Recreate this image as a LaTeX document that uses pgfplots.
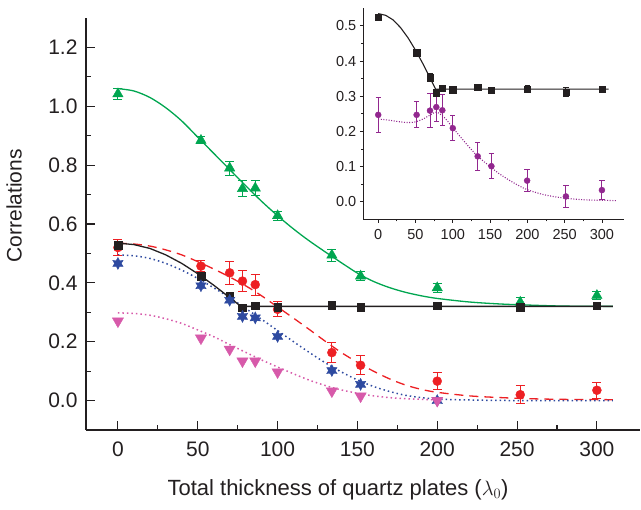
\documentclass[border=0pt]{standalone}
\usepackage{fontspec}
\setmainfont{Liberation Sans}
\usepackage{pgfplots}
\usepackage{pgfplotstable}
\pgfplotsset{compat=1.18}

\definecolor{cgreen}{RGB}{0,166,80}
\definecolor{cred}{RGB}{237,32,36}
\definecolor{cblue}{RGB}{46,74,160}
\definecolor{cmag}{RGB}{215,90,170}
\definecolor{cpur}{RGB}{146,39,143}
\definecolor{cblk}{RGB}{35,31,32}

\pgfdeclareplotmark{hexstar}{%
  \pgfpathmoveto{\pgfpointpolar{90}{\pgfplotmarksize}}%
  \pgfpathlineto{\pgfpointpolar{120}{0.55\pgfplotmarksize}}%
  \pgfpathlineto{\pgfpointpolar{150}{\pgfplotmarksize}}%
  \pgfpathlineto{\pgfpointpolar{180}{0.55\pgfplotmarksize}}%
  \pgfpathlineto{\pgfpointpolar{210}{\pgfplotmarksize}}%
  \pgfpathlineto{\pgfpointpolar{240}{0.55\pgfplotmarksize}}%
  \pgfpathlineto{\pgfpointpolar{270}{\pgfplotmarksize}}%
  \pgfpathlineto{\pgfpointpolar{300}{0.55\pgfplotmarksize}}%
  \pgfpathlineto{\pgfpointpolar{330}{\pgfplotmarksize}}%
  \pgfpathlineto{\pgfpointpolar{0}{0.55\pgfplotmarksize}}%
  \pgfpathlineto{\pgfpointpolar{30}{\pgfplotmarksize}}%
  \pgfpathlineto{\pgfpointpolar{60}{0.55\pgfplotmarksize}}%
  \pgfpathclose
  \pgfusepathqfillstroke
}

% ---------- main panel data ----------
\pgfplotstableread{
x y e
0 1.042 0.020
52 0.884 0.012
70 0.790 0.024
78 0.720 0.027
86 0.722 0.025
100 0.628 0.015
134 0.494 0.020
152 0.423 0.015
200 0.383 0.015
252 0.334 0.015
300 0.357 0.012
}\greenpts
\pgfplotstableread{
x y
0 1.060
10 1.052
20 1.030
30 0.995
40 0.950
50 0.895
60 0.840
70 0.785
80 0.730
90 0.677
100 0.628
110 0.583
120 0.542
134 0.490
150 0.433
160 0.405
170 0.384
180 0.368
190 0.356
200 0.347
220 0.335
240 0.328
260 0.324
280 0.321
310 0.320
}\greenfit
\pgfplotstableread{
x y e
0 0.527 0.010
52 0.423 0.008
70 0.356 0.010
78 0.316 0.010
86 0.323 0.008
100 0.318 0.010
134 0.325 0.008
152 0.318 0.008
200 0.322 0.008
252 0.318 0.008
300 0.322 0.008
}\blackpts
\pgfplotstableread{
x y
0 0.535
10 0.530
20 0.517
30 0.495
40 0.466
50 0.431
60 0.392
65 0.371
70 0.350
74 0.333
77 0.320
310 0.320
}\blackfit
\pgfplotstableread{
x y e
0 0.520 0.027
52 0.457 0.020
70 0.434 0.040
78 0.406 0.037
86 0.394 0.036
100 0.310 0.026
134 0.163 0.034
152 0.120 0.032
200 0.066 0.030
252 0.020 0.030
300 0.035 0.027
}\redpts
\pgfplotstableread{
x y
0 0.535
10 0.532
20 0.525
30 0.512
40 0.495
50 0.472
60 0.447
70 0.420
80 0.390
90 0.356
100 0.318
110 0.280
120 0.241
130 0.201
140 0.163
150 0.130
160 0.100
170 0.074
180 0.053
190 0.038
200 0.028
220 0.016
240 0.010
260 0.006
280 0.004
310 0.003
}\redfit
\pgfplotstableread{
x y
0 0.466
52 0.390
70 0.341
78 0.286
86 0.281
100 0.218
134 0.102
152 0.055
200 0.000
}\bluepts
\pgfplotstableread{
x y
0 0.495
10 0.492
20 0.483
30 0.466
40 0.443
50 0.415
60 0.383
70 0.350
80 0.313
90 0.276
100 0.238
110 0.200
120 0.163
130 0.128
140 0.097
150 0.070
160 0.048
170 0.031
180 0.018
190 0.010
200 0.005
220 0.002
250 0.000
310 0.000
}\bluefit
\pgfplotstableread{
x y
0 0.270
52 0.212
70 0.174
78 0.134
86 0.134
100 0.097
134 0.032
152 0.015
200 0.000
}\magpts
\pgfplotstableread{
x y
0 0.298
10 0.296
20 0.290
30 0.278
40 0.262
50 0.240
60 0.217
70 0.190
80 0.164
90 0.138
100 0.114
110 0.091
120 0.069
130 0.051
140 0.036
150 0.025
160 0.016
175 0.008
200 0.002
}\magfit

% ---------- inset data ----------
\pgfplotstableread{
x y e
0 0.525 0.008
51.5 0.424 0.006
69.4 0.353 0.012
77.9 0.310 0.010
86 0.323 0.008
100 0.319 0.008
133.4 0.326 0.008
151.8 0.317 0.008
199.7 0.320 0.010
251.7 0.312 0.012
300 0.320 0.008
}\iblackpts
\pgfplotstableread{
x y e
0 0.247 0.050
51.5 0.247 0.037
69.4 0.259 0.048
77.9 0.269 0.042
86 0.260 0.044
100 0.209 0.036
133.4 0.129 0.039
151.8 0.101 0.035
199.7 0.060 0.031
251.7 0.015 0.031
300 0.033 0.027
}\ipurpts
\pgfplotstableread{
x y
0 0.235
10 0.233
20 0.230
30 0.227
40 0.225
50 0.227
60 0.235
70 0.247
78 0.255
85 0.246
92 0.232
100 0.210
110 0.185
120 0.160
133 0.130
150 0.100
160 0.083
175 0.062
190 0.044
200 0.034
220 0.021
240 0.013
260 0.008
280 0.005
300 0.004
320 0.003
}\ipurfit

\begin{document}
\begin{tikzpicture}
\begin{axis}[
  at={(86pt,80pt)}, anchor=south west,
  scale only axis, width=554pt, height=412pt,
  xmin=-20, xmax=327, ymin=-0.1, ymax=1.3,
  axis x line*=bottom, axis y line*=left,
  axis line style={-, line width=1.1pt, color=cblk},
  tick align=inside,
  major tick length=9pt, minor tick length=5pt,
  every tick/.style={line width=1.1pt, color=cblk},
  xtick={0,50,100,150,200,250,300}, minor x tick num=1,
  ytick={0,0.2,0.4,0.6,0.8,1.0,1.2}, minor y tick num=1,
  tick label style={font=\fontsize{21}{25}\selectfont, color=cblk},
  /pgf/number format/assume math mode=true,
  y tick label style={/pgf/number format/fixed, /pgf/number format/fixed zerofill, /pgf/number format/precision=1, xshift=-5pt},
  x tick label style={yshift=-8pt},
  xlabel={Total thickness of quartz plates ($\lambda_0$)},
  ylabel={Correlations},
  label style={font=\fontsize{21}{25}\selectfont, color=cblk},
  xlabel style={font=\fontsize{22}{26}\selectfont, at={(axis description cs:0.455,-0.158)}, anchor=base},
  ylabel style={at={(axis description cs:-0.150,0.544)}, anchor=north},
  clip=false,
]
% fits
\addplot[cgreen, line width=1.3pt, smooth] table[x=x,y=y] {\greenfit};
\addplot[cred, line width=1.3pt, dash pattern=on 9pt off 6pt, smooth] table[x=x,y=y] {\redfit};
\addplot[cblue, line width=1.5pt, dash pattern=on 1.5pt off 3pt, smooth] table[x=x,y=y] {\bluefit};
\addplot[cmag, line width=1.5pt, dash pattern=on 1.5pt off 3pt, smooth] table[x=x,y=y] {\magfit};
\addplot[cblk, line width=1.3pt] table[x=x,y=y] {\blackfit};
% points
\addplot[only marks, mark=triangle*, mark size=6pt, color=cgreen,
  error bars/.cd, y dir=both, y explicit,
  error bar style={line width=1pt, color=cgreen},
  error mark options={rotate=90, mark size=4.5pt, line width=1pt, color=cgreen}]
  table[x=x,y=y,y error=e] {\greenpts};
\addplot[only marks, mark=*, mark size=4.5pt, color=cred,
  error bars/.cd, y dir=both, y explicit,
  error bar style={line width=1pt, color=cred},
  error mark options={rotate=90, mark size=4.5pt, line width=1pt, color=cred}]
  table[x=x,y=y,y error=e] {\redpts};
\addplot[only marks, mark=square*, mark size=3.8pt, color=cblk,
  error bars/.cd, y dir=both, y explicit,
  error bar style={line width=1pt, color=cblk},
  error mark options={rotate=90, mark size=3.5pt, line width=1pt, color=cblk}]
  table[x=x,y=y,y error=e] {\blackpts};
\addplot[only marks, mark=hexstar, mark size=6pt, color=cblue] table[x=x,y=y] {\bluepts};
\addplot[only marks, mark=triangle*, mark size=6.5pt, mark options={rotate=180}, color=cmag] table[x=x,y=y] {\magpts};
\end{axis}

% inset
\begin{axis}[
  at={(363.3pt,290.7pt)}, anchor=south west,
  scale only axis, width=261pt, height=211pt,
  xmin=-20, xmax=330, ymin=-0.05, ymax=0.55,
  axis x line*=bottom, axis y line*=left,
  axis line style={-, line width=0.9pt, color=cblk},
  tick align=outside,
  major tick length=3.5pt, minor tick length=2.2pt,
  every tick/.style={line width=0.8pt, color=cblk},
  xtick={0,50,100,150,200,250,300}, minor x tick num=1,
  ytick={0,0.1,0.2,0.3,0.4,0.5}, minor y tick num=1,
  tick label style={font=\fontsize{14.5}{17}\selectfont, color=cblk},
  /pgf/number format/assume math mode=true,
  y tick label style={/pgf/number format/fixed, /pgf/number format/fixed zerofill, /pgf/number format/precision=1},
  x tick label style={yshift=-3pt},
  clip=false,
]
\addplot[cblk, line width=1.1pt] coordinates {(0,0.535) (10,0.530) (20,0.517) (30,0.495) (40,0.466) (50,0.431) (60,0.392) (65,0.371) (70,0.350) (74,0.333) (77,0.320) (309,0.320)};
\addplot[cpur, line width=1.1pt, dash pattern=on 1pt off 1.6pt, smooth] table[x=x,y=y] {\ipurfit};
\addplot[only marks, mark=square*, mark size=3.2pt, color=cblk,
  error bars/.cd, y dir=both, y explicit,
  error bar style={line width=0.9pt, color=cblk},
  error mark options={rotate=90, mark size=2.6pt, line width=0.9pt, color=cblk}]
  table[x=x,y=y,y error=e] {\iblackpts};
\addplot[only marks, mark=*, mark size=3pt, color=cpur,
  error bars/.cd, y dir=both, y explicit,
  error bar style={line width=0.9pt, color=cpur},
  error mark options={rotate=90, mark size=2.7pt, line width=0.9pt, color=cpur}]
  table[x=x,y=y,y error=e] {\ipurpts};
\end{axis}
\pgfresetboundingbox
\path[use as bounding box] (0,0) rectangle (641pt,510pt);
\end{tikzpicture}
\end{document}
